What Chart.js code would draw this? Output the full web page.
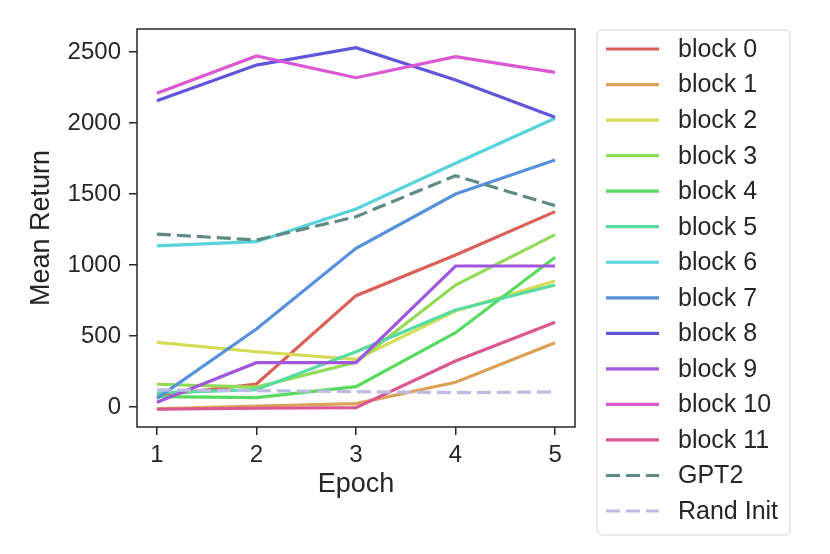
<!DOCTYPE html>
<html>
<head>
<meta charset="utf-8">
<script src="https://cdn.jsdelivr.net/npm/chart.js"></script>
<style>
  html, body { margin: 0; padding: 0; background: #fff; }
  #wrap { width: 830px; height: 554px; }
</style>
</head>
<body>
<div id="wrap"><canvas id="returnChart" width="830" height="554"></canvas></div>
<script>
// Data
const epochs = [1, 2, 3, 4, 5];
const yTicks = [0, 500, 1000, 1500, 2000, 2500];

const block0  = [80, 162, 784, 1070, 1376];
const block1  = [-14, 7, 24, 174, 453];
const block2  = [455, 389, 335, 676, 887];
const block3  = [160, 140, 315, 859, 1214];
const block4  = [73, 66, 143, 523, 1054];
const block5  = [100, 122, 389, 683, 859];
const block6  = [1134, 1164, 1394, 1716, 2033];
const block7  = [61, 549, 1117, 1500, 1739];
const block8  = [2157, 2408, 2530, 2303, 2040];
const block9  = [33, 312, 312, 993, 993];
const block10 = [2209, 2472, 2319, 2467, 2357];
const block11 = [-16, -9, -5, 324, 596];
const gpt2    = [1218, 1176, 1340, 1629, 1418];
const randInit = [120, 115, 108, 101, 106];

const seriesNames = ['block 0', 'block 1', 'block 2', 'block 3', 'block 4', 'block 5',
    'block 6', 'block 7', 'block 8', 'block 9', 'block 10', 'block 11', 'GPT2', 'Rand Init'];
const seriesValues = [block0, block1, block2, block3, block4, block5,
    block6, block7, block8, block9, block10, block11, gpt2, randInit];

// hls palette (12) + baselines
const colors = ['#db5f57', '#dba157', '#d3db57', '#91db57', '#57db5f', '#57dba1',
    '#57d3db', '#5791db', '#5f57db', '#a157db', '#db57d3', '#db5791', '#5e8a88', '#bcbce2'];

const FONT = '"Liberation Sans", Arial, Helvetica, sans-serif';
const INK = '#262626';

const datasets = seriesNames.map((name, i) => ({
    label: name,
    data: epochs.map((e, j) => ({ x: e, y: seriesValues[i][j] })),
    borderColor: colors[i],
    borderWidth: 3.2,
    borderDash: i >= 12 ? [14, 6] : [],
    pointRadius: 0,
    tension: 0,
    fill: false,
    order: seriesNames.length - i   // later series on top, like matplotlib
}));

// frame, axis titles and legend box
const decorPlugin = {
    id: 'decor',
    afterDraw(chart) {
        const ctx = chart.ctx;
        const a = chart.chartArea;
        ctx.save();

        // full frame around the axes
        ctx.strokeStyle = INK;
        ctx.lineWidth = 1.5;
        ctx.strokeRect(a.left, a.top, a.right - a.left, a.bottom - a.top);

        // axis titles
        ctx.fillStyle = INK;
        ctx.font = '27px ' + FONT;
        ctx.textAlign = 'center';
        ctx.textBaseline = 'middle';
        ctx.fillText('Epoch', (a.left + a.right) / 2, 485);
        ctx.save();
        ctx.translate(42, (a.top + a.bottom) / 2);
        ctx.rotate(-Math.PI / 2);
        ctx.fillText('Mean Return', 0, 0);
        ctx.restore();

        // legend
        const bx = 597, by = 30, bw = 193, bh = 505;
        ctx.beginPath();
        ctx.roundRect(bx, by, bw, bh, 5);
        ctx.fillStyle = '#fff';
        ctx.fill();
        ctx.strokeStyle = '#d4d4d4';
        ctx.lineWidth = 1;
        ctx.stroke();

        ctx.font = '25px ' + FONT;
        ctx.textAlign = 'left';
        chart.data.datasets.forEach((ds, i) => {
            const y = 49 + i * 35.54;
            ctx.beginPath();
            ctx.setLineDash(ds.borderDash);
            ctx.strokeStyle = ds.borderColor;
            ctx.lineWidth = 3.2;
            ctx.moveTo(606, y);
            ctx.lineTo(659, y);
            ctx.stroke();
            ctx.setLineDash([]);
            ctx.fillStyle = INK;
            ctx.fillText(ds.label, 678, y + 1);
        });
        ctx.restore();
    }
};

new Chart(document.getElementById('returnChart'), {
    type: 'line',
    data: { datasets: datasets },
    options: {
        responsive: false,
        animation: false,
        devicePixelRatio: 1,
        layout: { padding: { top: 29, right: 255, left: 0, bottom: 0 } },
        plugins: {
            legend: { display: false },
            tooltip: { enabled: false }
        },
        scales: {
            x: {
                type: 'linear',
                min: 0.8,
                max: 5.2,
                afterBuildTicks: (scale) => { scale.ticks = epochs.map(v => ({ value: v })); },
                afterFit: (scale) => { scale.height = 127; },
                grid: { drawOnChartArea: false, drawTicks: true, tickLength: 8, color: INK, lineWidth: 1.5 },
                border: { display: false },
                ticks: { color: INK, padding: 6, font: { family: FONT, size: 24 },
                    callback: (v) => String(v) }
            },
            y: {
                type: 'linear',
                min: -141,
                max: 2662,
                afterBuildTicks: (scale) => { scale.ticks = yTicks.map(v => ({ value: v })); },
                afterFit: (scale) => { scale.width = 137; },
                grid: { drawOnChartArea: false, drawTicks: true, tickLength: 8, color: INK, lineWidth: 1.5 },
                border: { display: false },
                ticks: { color: INK, padding: 8, font: { family: FONT, size: 24 },
                    callback: (v) => String(v) }
            }
        }
    },
    plugins: [decorPlugin]
});
</script>
</body>
</html>
